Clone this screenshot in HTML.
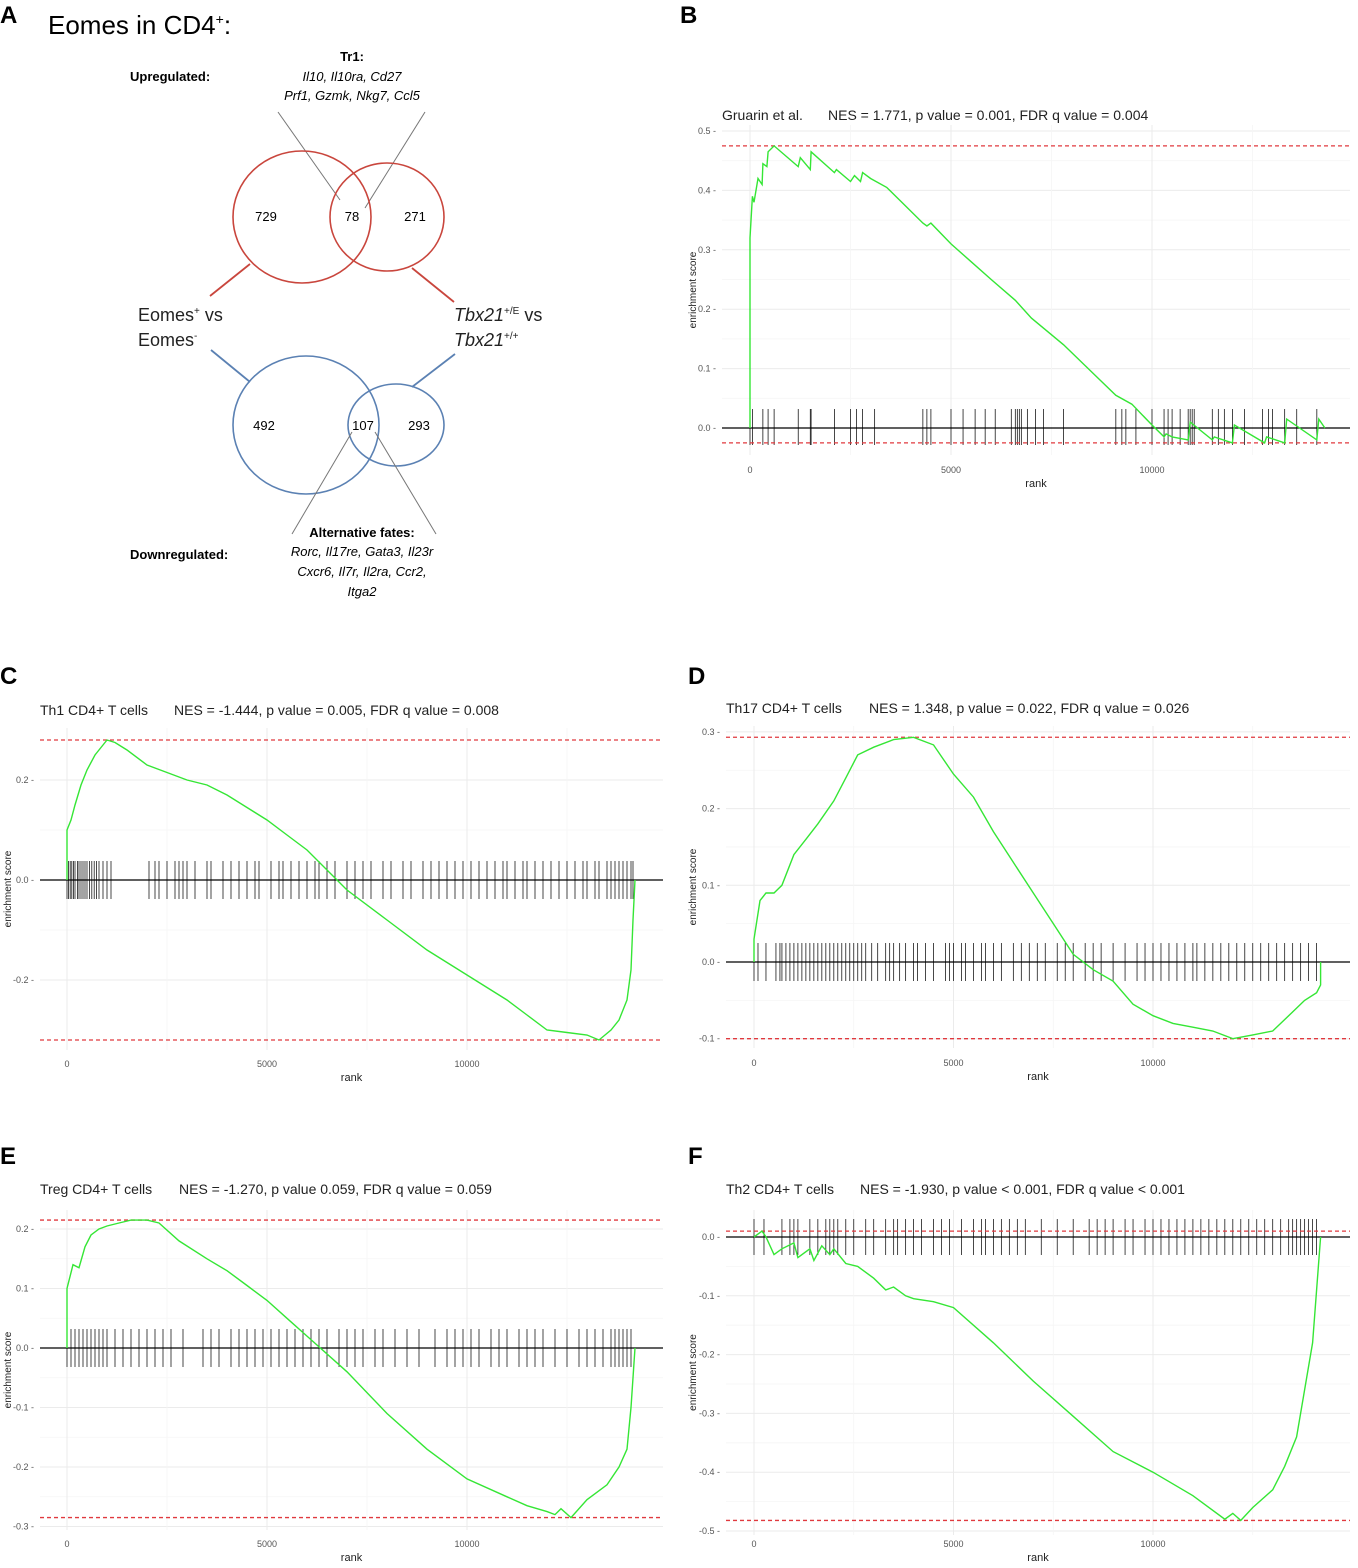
<!DOCTYPE html>
<html><head><meta charset="utf-8">
<style>
html,body{margin:0;padding:0;background:#fff;}
body{width:1358px;height:1568px;position:relative;overflow:hidden;font-family:"Liberation Sans",sans-serif;}
svg{position:absolute;left:0;top:0;}
</style></head>
<body>
<svg id="fig" width="1358" height="1568" viewBox="0 0 1358 1568" font-family="Liberation Sans, sans-serif">
  <text x="0" y="23" font-size="24" font-weight="bold">A</text>
  <text x="680" y="23" font-size="24" font-weight="bold">B</text>
  <text x="0" y="684" font-size="24" font-weight="bold">C</text>
  <text x="688" y="684" font-size="24" font-weight="bold">D</text>
  <text x="0" y="1164" font-size="24" font-weight="bold">E</text>
  <text x="688" y="1164" font-size="24" font-weight="bold">F</text>

  <g>
    <text x="48" y="34" font-size="26">Eomes in CD4<tspan font-size="14" dy="-10">+</tspan><tspan dy="10">:</tspan></text>
    <text x="130" y="81" font-size="13" font-weight="bold">Upregulated:</text>
    <text x="352" y="61" font-size="13" font-weight="bold" text-anchor="middle">Tr1:</text>
    <text x="352" y="81" font-size="13" font-style="italic" text-anchor="middle">Il10, Il10ra, Cd27</text>
    <text x="352" y="100" font-size="13" font-style="italic" text-anchor="middle">Prf1, Gzmk, Nkg7, Ccl5</text>
    <line x1="278" y1="112" x2="340" y2="200" stroke="#777" stroke-width="1"/>
    <line x1="425" y1="112" x2="365" y2="208" stroke="#777" stroke-width="1"/>
    <ellipse cx="302" cy="217" rx="69" ry="66" fill="none" stroke="#c9463d" stroke-width="1.6"/>
    <ellipse cx="387" cy="217" rx="57" ry="54" fill="none" stroke="#c9463d" stroke-width="1.6"/>
    <text x="266" y="221" font-size="13" text-anchor="middle">729</text>
    <text x="352" y="221" font-size="13" text-anchor="middle">78</text>
    <text x="415" y="221" font-size="13" text-anchor="middle">271</text>
    <line x1="250" y1="264" x2="210" y2="296" stroke="#c9463d" stroke-width="1.8"/>
    <line x1="412" y1="268" x2="454" y2="302" stroke="#c9463d" stroke-width="1.8"/>
    <text x="138" y="321" font-size="18" fill="#222">Eomes<tspan font-size="10" dy="-7">+</tspan><tspan dy="7"> vs</tspan></text>
    <text x="138" y="346" font-size="18" fill="#222">Eomes<tspan font-size="10" dy="-7">-</tspan></text>
    <text x="454" y="321" font-size="18" fill="#222"><tspan font-style="italic">Tbx21</tspan><tspan font-size="10" dy="-7">+/E</tspan><tspan dy="7"> vs</tspan></text>
    <text x="454" y="346" font-size="18" fill="#222"><tspan font-style="italic">Tbx21</tspan><tspan font-size="10" dy="-7">+/+</tspan></text>
    <line x1="211" y1="350" x2="250" y2="382" stroke="#5b81b3" stroke-width="1.8"/>
    <line x1="455" y1="354" x2="412" y2="387" stroke="#5b81b3" stroke-width="1.8"/>
    <ellipse cx="306" cy="425" rx="73" ry="69" fill="none" stroke="#5b81b3" stroke-width="1.6"/>
    <ellipse cx="396" cy="425" rx="48" ry="41" fill="none" stroke="#5b81b3" stroke-width="1.6"/>
    <text x="264" y="430" font-size="13" text-anchor="middle">492</text>
    <text x="363" y="430" font-size="13" text-anchor="middle">107</text>
    <text x="419" y="430" font-size="13" text-anchor="middle">293</text>
    <line x1="352" y1="432" x2="292" y2="534" stroke="#777" stroke-width="1"/>
    <line x1="375" y1="432" x2="436" y2="534" stroke="#777" stroke-width="1"/>
    <text x="130" y="559" font-size="13" font-weight="bold">Downregulated:</text>
    <text x="362" y="537" font-size="13" font-weight="bold" text-anchor="middle">Alternative fates:</text>
    <text x="362" y="556" font-size="13" font-style="italic" text-anchor="middle">Rorc, Il17re, Gata3, Il23r</text>
    <text x="362" y="576" font-size="13" font-style="italic" text-anchor="middle">Cxcr6, Il7r, Il2ra, Ccr2,</text>
    <text x="362" y="596" font-size="13" font-style="italic" text-anchor="middle">Itga2</text>
  </g>
</svg>
<script>
const bRank=[0,0,60,100,200,300,320,420,450,600,1200,1250,1500,1520,2100,2150,2500,2600,2750,2800,3000,3400,4300,4400,4500,5000,5500,6000,6600,7000,7800,9100,9500,10000,10300,10350,10500,10900,10950,11500,11550,12000,12050,12800,12850,13300,13350,14100,14150,14300];
const bES=[0,0.32,0.39,0.38,0.42,0.41,0.445,0.44,0.465,0.475,0.44,0.455,0.435,0.465,0.43,0.435,0.415,0.425,0.415,0.43,0.42,0.405,0.345,0.34,0.345,0.31,0.28,0.25,0.215,0.185,0.14,0.055,0.04,0.005,-0.015,-0.01,-0.015,-0.02,0.01,-0.02,-0.015,-0.025,0.005,-0.025,-0.015,-0.025,0.015,-0.02,0.015,0.0];
const bHits=[0,60,320,450,600,1200,1500,1520,2100,2500,2650,2800,3100,4300,4400,4500,5000,5300,5600,5850,6100,6500,6600,6650,6700,6750,6900,7100,7300,7800,9100,9250,9350,9600,10000,10300,10400,10500,10700,10900,10950,11000,11050,11500,11650,11800,12000,12300,12750,12900,13000,13300,13600,14100];
const cRank=[0,0,100,200,350,500,700,1000,1200,1500,2000,2500,3000,3500,4000,4500,5000,5500,6000,6500,7000,8000,9000,10000,11000,11500,12000,12500,13000,13300,13600,13800,14000,14100,14150,14200];
const cES=[0,0.1,0.12,0.15,0.19,0.22,0.25,0.28,0.275,0.26,0.23,0.215,0.2,0.19,0.17,0.145,0.12,0.09,0.06,0.02,-0.02,-0.08,-0.14,-0.19,-0.24,-0.27,-0.3,-0.305,-0.31,-0.32,-0.3,-0.28,-0.24,-0.18,-0.08,0.0];
const cHits=[0,40,80,120,160,200,260,300,350,400,450,500,560,620,680,740,800,900,1000,1100,2050,2200,2300,2500,2700,2800,2900,3000,3200,3500,3600,3900,4100,4300,4500,4700,4800,5100,5300,5400,5600,5800,6000,6200,6300,6500,6700,7000,7200,7400,7600,7900,8100,8400,8600,8900,9100,9300,9500,9700,9900,10100,10300,10500,10700,10900,11000,11200,11400,11500,11700,11900,12100,12300,12500,12700,12900,13000,13200,13300,13500,13600,13700,13800,13900,14000,14100,14150];
const dRank=[0,0,150,300,500,700,1000,1300,1600,2000,2300,2600,3000,3500,4000,4500,5000,5500,6000,6500,7000,7500,8000,8500,9000,9500,10000,10500,11000,11500,12000,12500,13000,13500,13800,14100,14200,14200];
const dES=[0,0.03,0.08,0.09,0.09,0.1,0.14,0.16,0.18,0.21,0.24,0.27,0.28,0.29,0.293,0.283,0.245,0.215,0.17,0.13,0.09,0.05,0.01,-0.01,-0.025,-0.055,-0.07,-0.08,-0.085,-0.09,-0.1,-0.095,-0.09,-0.065,-0.05,-0.04,-0.03,0];
const dHits=[0,100,300,550,650,700,800,900,1000,1100,1200,1300,1400,1500,1600,1700,1800,1900,2000,2100,2200,2300,2400,2500,2600,2700,2800,2950,3100,3300,3400,3500,3650,3800,4000,4100,4300,4500,4800,4900,5000,5200,5300,5500,5700,5800,6000,6200,6500,6700,6900,7100,7300,7600,7800,8000,8300,8500,8700,9000,9300,9600,9800,10000,10200,10400,10600,10800,11000,11100,11300,11500,11700,11900,12100,12300,12500,12700,12900,13100,13300,13500,13700,13900,14100];
const eRank=[0,0,150,300,450,600,800,1000,1300,1600,2000,2300,2800,3500,4000,4500,5000,5500,6000,7000,8000,9000,10000,11000,11500,12000,12200,12350,12600,13000,13500,13800,14000,14100,14200];
const eES=[0,0.1,0.14,0.135,0.17,0.19,0.2,0.205,0.21,0.215,0.215,0.21,0.18,0.15,0.13,0.105,0.08,0.05,0.02,-0.04,-0.11,-0.17,-0.22,-0.25,-0.265,-0.275,-0.28,-0.27,-0.285,-0.255,-0.23,-0.2,-0.17,-0.1,0];
const eHits=[0,100,200,300,400,500,600,700,800,900,1000,1200,1400,1600,1800,2000,2200,2400,2600,2900,3400,3600,3800,4100,4300,4500,4700,4900,5100,5300,5500,5700,5900,6100,6300,6500,6800,7000,7200,7400,7700,7900,8200,8500,8800,9200,9500,9700,9900,10100,10300,10600,10800,11000,11300,11500,11700,11900,12200,12500,12800,13000,13200,13400,13600,13700,13800,13900,14000,14100];
const fRank=[0,200,300,500,700,1000,1100,1400,1500,1700,1900,2000,2300,2600,3000,3300,3500,3800,4000,4500,5000,6000,7000,8000,9000,10000,11000,11800,12000,12200,12500,13000,13300,13600,13800,14000,14100,14200];
const fES=[0,0.01,0.0,-0.03,-0.02,-0.01,-0.035,-0.02,-0.04,-0.015,-0.03,-0.02,-0.045,-0.05,-0.07,-0.09,-0.085,-0.1,-0.105,-0.11,-0.12,-0.18,-0.245,-0.305,-0.365,-0.4,-0.44,-0.48,-0.47,-0.482,-0.46,-0.43,-0.39,-0.34,-0.26,-0.18,-0.09,0];
const fHits=[0,250,700,900,1000,1100,1400,1600,1800,1900,2000,2100,2300,2500,2800,3000,3300,3500,3600,3800,4000,4200,4500,4700,4900,5200,5500,5700,5800,6000,6200,6400,6600,6800,7200,7600,8000,8400,8600,8800,9000,9300,9500,9800,10000,10200,10400,10600,10800,11000,11200,11400,11600,11800,12000,12200,12400,12600,12800,13000,13200,13400,13500,13600,13700,13800,13900,14000,14100];
const xTickValues=[0,5000,10000];
const xTickLabels=["0","5000","10000"];

const NS='http://www.w3.org/2000/svg';
const svg=document.getElementById('fig');
function mk(tag,attrs,parent){const e=document.createElementNS(NS,tag);for(const k in attrs)e.setAttribute(k,attrs[k]);(parent||svg).appendChild(e);return e;}

function chart(cfg,ranks,es,hits){
  const g=mk('g',{});
  
  
  const xs=v=>cfg.x0+v*cfg.xs;
  const ys=v=>cfg.y0-v*cfg.ys;
  for(let i=0;i<cfg.yTicks.length;i++){
    const v=cfg.yTicks[i];
    mk('line',{x1:cfg.l,x2:cfg.r,y1:ys(v),y2:ys(v),stroke:'#ebebeb','stroke-width':1},g);
    if(i<cfg.yTicks.length-1){const m=(v+cfg.yTicks[i+1])/2;mk('line',{x1:cfg.l,x2:cfg.r,y1:ys(m),y2:ys(m),stroke:'#f5f5f5','stroke-width':0.8},g);}
    const t=mk('text',{x:cfg.l-6,y:ys(v)+3,'font-size':9,'text-anchor':'end',fill:'#555'},g);
    t.textContent=(Math.abs(v)<1e-9?'0.0':v.toFixed(1))+' -';
    
    
  }
  for(let i=0;i<xTickValues.length;i++){
    const v=xTickValues[i];
    mk('line',{x1:xs(v),x2:xs(v),y1:cfg.t,y2:cfg.b,stroke:'#ebebeb','stroke-width':1},g);
    mk('line',{x1:xs(v+2500),x2:xs(v+2500),y1:cfg.t,y2:cfg.b,stroke:'#f5f5f5','stroke-width':0.8},g);
    const t=mk('text',{x:xs(v),y:cfg.xl,'font-size':9,'text-anchor':'middle',fill:'#555'},g);
    t.textContent=xTickLabels[i];
    
    
  }
  for(const h of hits){
    const ln=mk('line',{x1:xs(h),x2:xs(h),y1:cfg.hTop,y2:cfg.hBot,stroke:'#1a1a1a','stroke-width':0.8},g);
    
    
  }
  const zero=mk('line',{x1:cfg.l,x2:cfg.r,y1:ys(0),y2:ys(0),stroke:'#000','stroke-width':1.3},g);
  
  
  let mx=Math.max(...es),mn=Math.min(...es);
  for(const v of [mx,mn]){
    const d=mk('line',{x1:cfg.l,x2:cfg.r,y1:ys(v),y2:ys(v),stroke:'#e0393e','stroke-width':1.3,'stroke-dasharray':'4,3'},g);
    
    
  }
  const pts=ranks.map((r,i)=>xs(r).toFixed(1)+','+ys(es[i]).toFixed(1)).join(' ');
  const pl=mk('polyline',{points:pts,fill:'none',stroke:'#35e635','stroke-width':1.4},g);
  
  
  const t1=mk('text',{x:cfg.l,y:cfg.ty,'font-size':14,fill:'#222'},g);
  t1.textContent=cfg.title;
  
  
  const t2=mk('text',{x:cfg.nx,y:cfg.ty,'font-size':14,fill:'#222'},g);
  t2.textContent=cfg.stats;
  
  
  const xl=mk('text',{x:(cfg.l+cfg.r)/2,y:cfg.xl+14,'font-size':11,'text-anchor':'middle',fill:'#222'},g);
  xl.textContent='rank';
  
  
  const cy=(cfg.t+cfg.b)/2;
  const yl=mk('text',{x:cfg.yx,y:cy,'font-size':10,'text-anchor':'middle',fill:'#222',transform:'rotate(-90 '+cfg.yx+' '+cy+')'},g);
  yl.textContent='enrichment score';
  
  
}

chart({name:'gsea-chart-b',x0:750,xs:0.0402,y0:428,ys:594,l:722,r:1350,t:125,b:455,xl:473,yx:696,hTop:409,hBot:445,ty:120,nx:828,
  yTicks:[0,0.1,0.2,0.3,0.4,0.5],title:'Gruarin et al.',stats:'NES = 1.771, p value = 0.001, FDR q value = 0.004'},bRank,bES,bHits);
chart({name:'gsea-chart-c',x0:67,xs:0.040,y0:880,ys:500,l:40,r:663,t:728,b:1050,xl:1067,yx:11,hTop:861,hBot:899,ty:715,nx:174,
  yTicks:[-0.2,0,0.2],title:'Th1 CD4+ T cells',stats:'NES = -1.444, p value = 0.005, FDR q value = 0.008'},cRank,cES,cHits);
chart({name:'gsea-chart-d',x0:754,xs:0.0399,y0:962,ys:767,l:726,r:1350,t:726,b:1048,xl:1066,yx:696,hTop:943,hBot:981,ty:713,nx:869,
  yTicks:[-0.1,0,0.1,0.2,0.3],title:'Th17 CD4+ T cells',stats:'NES = 1.348, p value = 0.022, FDR q value = 0.026'},dRank,dES,dHits);
chart({name:'gsea-chart-e',x0:67,xs:0.040,y0:1348,ys:595,l:40,r:663,t:1210,b:1530,xl:1547,yx:11,hTop:1329,hBot:1367,ty:1194,nx:179,
  yTicks:[-0.3,-0.2,-0.1,0,0.1,0.2],title:'Treg CD4+ T cells',stats:'NES = -1.270, p value 0.059, FDR q value = 0.059'},eRank,eES,eHits);
chart({name:'gsea-chart-f',x0:754,xs:0.0399,y0:1237,ys:588,l:726,r:1350,t:1210,b:1535,xl:1547,yx:696,hTop:1219,hBot:1255,ty:1194,nx:860,
  yTicks:[-0.5,-0.4,-0.3,-0.2,-0.1,0],title:'Th2 CD4+ T cells',stats:'NES = -1.930, p value < 0.001, FDR q value < 0.001'},fRank,fES,fHits);
</script>
</body></html>
